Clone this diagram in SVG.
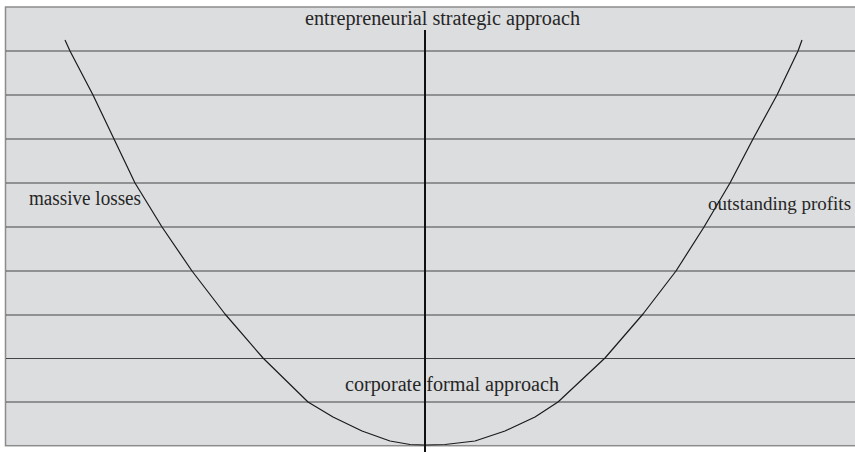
<svg xmlns="http://www.w3.org/2000/svg" width="855" height="452" viewBox="0 0 855 452">
  <style>
    .panel { fill: #dcdddf; stroke: #8c8c8c; stroke-width: 1.5; }
    .grid line { stroke: #454545; stroke-width: 1; }
    .axis { stroke: #111; stroke-width: 2; }
    .curve { fill: none; stroke: #1a1a1a; stroke-width: 1.2; stroke-linejoin: round; }
    .label { font-family: "Liberation Serif", "Times New Roman", serif; font-size: 20px; fill: #262626; }
    .label.small { font-size: 19px; }
  </style>
  <rect width="855" height="452" fill="#ffffff"/>

  <!-- background panel -->
  <rect class="panel" x="5.5" y="7" width="860" height="438.7"/>

  <!-- horizontal bands -->
  <g class="grid">
    <line x1="6" y1="51" x2="855" y2="51"/>
    <line x1="6" y1="95" x2="855" y2="95"/>
    <line x1="6" y1="139" x2="855" y2="139"/>
    <line x1="6" y1="183" x2="855" y2="183"/>
    <line x1="6" y1="227" x2="855" y2="227"/>
    <line x1="6" y1="271" x2="855" y2="271"/>
    <line x1="6" y1="315" x2="855" y2="315"/>
    <line x1="6" y1="358.5" x2="855" y2="358.5"/>
    <line x1="6" y1="402" x2="855" y2="402"/>
  </g>

  <!-- U-shaped curve -->
  <g id="curve">
    <path class="curve" d="M65,40 L70,51 L93,95 L114,139 L135,183 L162,227 L192,271 L225,314 L263,358 L308,402 L333,417 L362,431 L390,441 L410,444.5 L425,445 L445,444.5 L475,441 L505,431 L535,417 L558,402 L605,358 L643,314 L676,271 L704,227 L730,183 L753,139 L777,95 L798,51 L802,40"/>
  </g>

  <!-- central axis -->
  <g id="axis">
    <line class="axis" x1="425" y1="30" x2="425" y2="452"/>
  </g>

  <!-- labels -->
  <g id="label-top"><text class="label" x="305" y="25" textLength="275" lengthAdjust="spacingAndGlyphs">entrepreneurial strategic approach</text></g>
  <g id="label-bottom"><text class="label" x="345" y="391" textLength="214" lengthAdjust="spacingAndGlyphs">corporate formal approach</text></g>
  <g id="label-left"><text class="label" x="29" y="205" textLength="112" lengthAdjust="spacingAndGlyphs">massive losses</text></g>
  <g id="label-right"><text class="label small" x="708" y="210">outstanding profits</text></g>
</svg>
